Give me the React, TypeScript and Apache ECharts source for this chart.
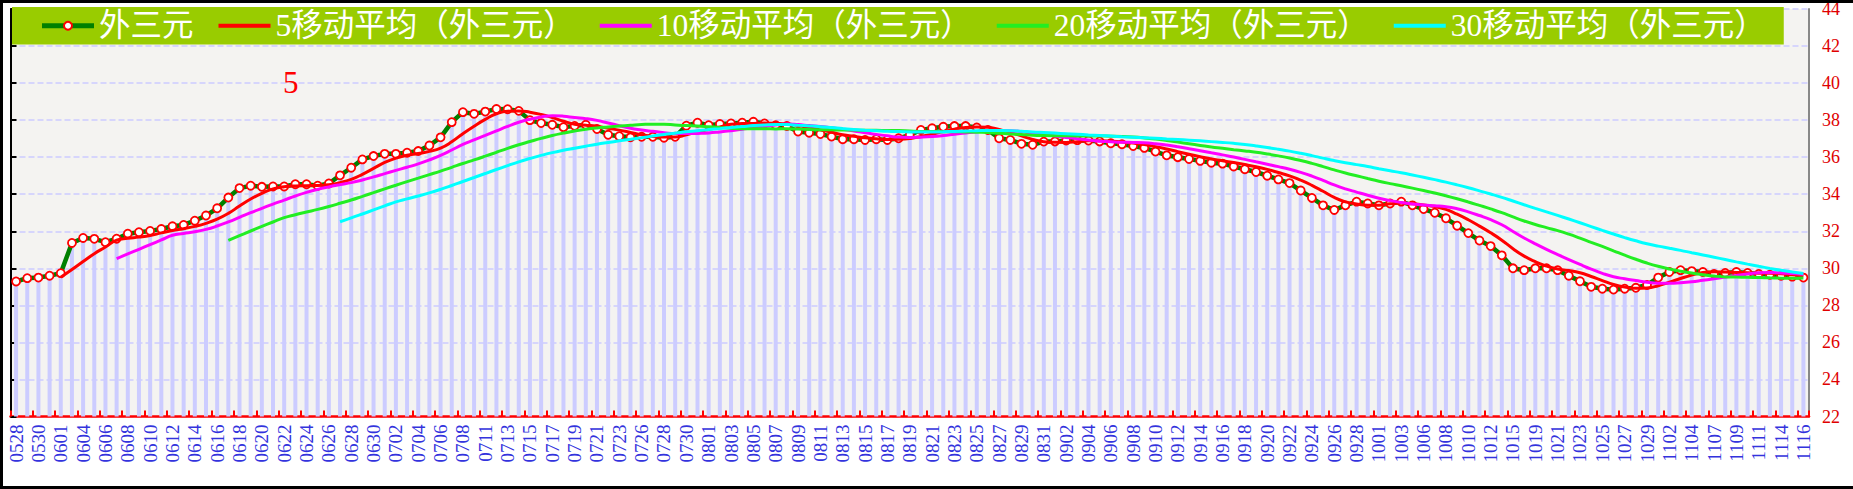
import React, { useEffect, useRef } from 'react';
import * as echarts from 'echarts';

const dates: string[] = [
  '0528','0529','0530','0531','0601','0603','0604','0605','0606','0607',
  '0608','0609','0610','0611','0612','0613','0614','0615','0616','0617',
  '0618','0619','0620','0621','0622','0623','0624','0625','0626','0627',
  '0628','0629','0630','0701','0702','0703','0704','0705','0706','0707',
  '0708','0710','0711','0712','0713','0714','0715','0716','0717','0718',
  '0719','0720','0721','0722','0723','0725','0726','0727','0728','0729',
  '0730','0731','0801','0802','0803','0804','0805','0806','0807','0808',
  '0809','0810','0811','0812','0813','0814','0815','0816','0817','0818',
  '0819','0820','0821','0822','0823','0824','0825','0826','0827','0828',
  '0829','0830','0831','0901','0902','0903','0904','0905','0906','0907',
  '0908','0909','0910','0911','0912','0913','0914','0915','0916','0917',
  '0918','0919','0920','0921','0922','0923','0924','0925','0926','0927',
  '0928','0930','1001','1002','1003','1005','1006','1007','1008','1009',
  '1010','1011','1012','1014','1015','1017','1019','1020','1021','1022',
  '1023','1024','1025','1026','1027','1028','1029','1101','1102','1103',
  '1104','1106','1107','1108','1109','1110','1111','1113','1114','1115',
  '1116'
];

const waiSanYuan: number[] = [
  29.29, 29.47, 29.5, 29.6, 29.74, 31.37, 31.64, 31.59, 31.41, 31.6,
  31.87, 31.95, 32.02, 32.12, 32.27, 32.34, 32.57, 32.85, 33.24, 33.82,
  34.33, 34.46, 34.4, 34.42, 34.42, 34.54, 34.54, 34.46, 34.58, 35.02,
  35.43, 35.88, 36.06, 36.18, 36.18, 36.24, 36.33, 36.63, 37.07, 37.89,
  38.43, 38.34, 38.46, 38.6, 38.59, 38.5, 38.0, 37.84, 37.75, 37.62,
  37.69, 37.75, 37.52, 37.21, 37.13, 37.07, 37.1, 37.1, 37.05, 37.1,
  37.7, 37.86, 37.73, 37.79, 37.82, 37.86, 37.91, 37.82, 37.73, 37.68,
  37.38, 37.32, 37.25, 37.11, 36.97, 36.97, 36.93, 36.97, 36.93, 37.02,
  37.2, 37.47, 37.56, 37.64, 37.68, 37.68, 37.6, 37.47, 37.02, 36.93,
  36.72, 36.67, 36.84, 36.85, 36.9, 36.92, 36.9, 36.85, 36.75, 36.7,
  36.6, 36.5, 36.3, 36.1, 36.0, 35.9, 35.8, 35.7, 35.65, 35.5,
  35.35, 35.2, 35.0, 34.8, 34.6, 34.2, 33.8, 33.4, 33.15, 33.4,
  33.6, 33.5, 33.4, 33.5, 33.6, 33.4, 33.2, 33.0, 32.7, 32.3,
  31.9, 31.5, 31.2, 30.7, 30.0, 29.9, 30.0, 30.0, 29.9, 29.6,
  29.3, 29.0, 28.9, 28.85, 28.9, 28.95, 29.1, 29.5, 29.8, 29.9,
  29.85, 29.8, 29.7, 29.75, 29.8, 29.75, 29.7, 29.65, 29.6, 29.55,
  29.5
];

const mainName = '外三元';
const maPeriods: number[] = [5, 10, 20, 30];
const maNames: string[] = ['5移动平均（外三元）', '10移动平均（外三元）', '20移动平均（外三元）', '30移动平均（外三元）'];
const maColors: string[] = ['#ff0000', '#ff00ff', '#22ee22', '#00ffff'];

const yMin = 22;
const yMax = 44;
const yStep = 2;
const cornerLabel = '5';

function movingAverage(src: number[], n: number): (number | null)[] {
  return src.map((_, i) => {
    if (i < n - 1) return null;
    let s = 0;
    for (let k = i - n + 1; k <= i; k++) s += src[k];
    return +(s / n).toFixed(3);
  });
}

const serifFont = "'Liberation Serif', 'Noto Sans CJK SC', serif";

export default function App() {
  const ref = useRef<HTMLDivElement>(null);

  useEffect(() => {
    document.body.style.margin = '0';
    if (!ref.current) return;
    const chart = echarts.init(ref.current, null, { renderer: 'svg' });

    const maSeries = maPeriods.map((p, idx) => ({
      type: 'line',
      name: maNames[idx],
      data: movingAverage(waiSanYuan, p),
      smooth: true,
      symbol: 'none',
      connectNulls: false,
      lineStyle: { color: maColors[idx], width: 3 },
      itemStyle: { color: maColors[idx] },
      z: 4,
    }));

    chart.setOption({
      animation: false,
      backgroundColor: '#ffffff',
      grid: {
        left: 10.5,
        right: 44,
        top: 4,
        bottom: 72.5,
        show: true,
        backgroundColor: '#f4f3f1',
        borderWidth: 0,
      },
      legend: {
        data: [
          { name: mainName, lineStyle: { width: 5 } },
          ...maNames.map((n) => ({ name: n, itemStyle: { opacity: 0 }, lineStyle: { width: 4 } })),
        ],
        left: 12,
        top: 7,
        padding: [3, 18, 3, 27.5],
        itemGap: 23,
        itemWidth: 52,
        itemHeight: 10,
        backgroundColor: '#99cc00',
        lineStyle: { width: 4 },
        textStyle: { color: '#ffffff', fontSize: 31.5, lineHeight: 30, fontFamily: serifFont },
        selectedMode: false,
      },
      xAxis: {
        type: 'category',
        data: dates,
        boundaryGap: true,
        axisLine: { show: true, lineStyle: { color: '#ff0000', width: 2.5 } },
        axisTick: { show: true, inside: true, length: 6, interval: 1, lineStyle: { color: '#ff0000', width: 2 } },
        axisLabel: { interval: 1, rotate: 90, color: '#3333dd', fontSize: 19, fontFamily: serifFont, margin: 8 },
        splitLine: { show: false },
      },
      yAxis: [
        {
          type: 'value',
          position: 'right',
          min: yMin,
          max: yMax,
          interval: yStep,
          axisLine: { show: true, lineStyle: { color: '#888888', width: 2 } },
          axisTick: { show: false },
          axisLabel: { color: '#e00000', fontSize: 18, fontFamily: serifFont, margin: 13 },
          splitLine: { show: true, lineStyle: { color: '#ccccff', width: 1.5, type: [6, 3] } },
        },
        {
          type: 'value',
          position: 'left',
          min: yMin,
          max: yMax,
          interval: yStep,
          axisLine: { show: true, lineStyle: { color: '#000000', width: 2 } },
          axisTick: { show: true, inside: true, length: 6, lineStyle: { color: '#000000', width: 2 } },
          axisLabel: { show: false },
          splitLine: { show: false },
        },
      ],
      graphic: [
        {
          type: 'text',
          x: 283,
          y: 82,
          style: { text: cornerLabel, fill: '#ff0000', fontSize: 31, fontFamily: serifFont, verticalAlign: 'middle' },
          z: 10,
        },
      ],
      series: [
        {
          type: 'bar',
          name: 'bars',
          data: waiSanYuan,
          barWidth: 4,
          itemStyle: { color: '#ccccff' },
          silent: true,
          z: 1,
        },
        {
          type: 'line',
          name: mainName,
          data: waiSanYuan,
          symbol: 'circle',
          symbolSize: 8,
          showAllSymbol: true,
          lineStyle: { color: '#008000', width: 4.5 },
          itemStyle: { color: '#ffffff', borderColor: '#ff0000', borderWidth: 1.8 },
          z: 3,
        },
        ...maSeries,
      ],
    });

    return () => chart.dispose();
  }, []);

  return (
    <div style={{ position: 'relative', width: 1853, height: 489 }}>
      <div ref={ref} style={{ width: 1853, height: 489 }} />
      <div
        style={{
          position: 'absolute',
          left: 0,
          top: 0,
          width: 1853,
          height: 489,
          boxSizing: 'border-box',
          borderTop: '3px solid #000',
          borderLeft: '3px solid #000',
          borderBottom: '3px solid #000',
          pointerEvents: 'none',
        }}
      />
    </div>
  );
}
